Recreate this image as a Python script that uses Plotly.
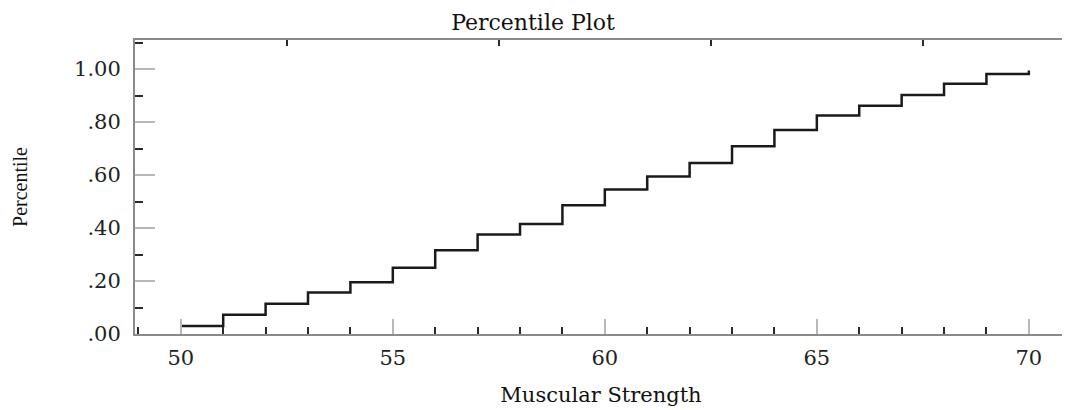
import plotly.graph_objects as go

strength = [50, 51, 52, 53, 54, 55, 56, 57, 58, 59, 60,
            61, 62, 63, 64, 65, 66, 67, 68, 69, 70]
percentile = [0.030, 0.073, 0.114, 0.157, 0.195, 0.250, 0.316, 0.376, 0.415, 0.486, 0.546,
              0.595, 0.646, 0.709, 0.770, 0.825, 0.862, 0.902, 0.945, 0.982, 0.995]

y_tickvals = [0.0, 0.2, 0.4, 0.6, 0.8, 1.0]
y_ticktext = [".00", ".20", ".40", ".60", ".80", "1.00"]
x_tickvals = [50, 55, 60, 65, 70]
top_tickvals = [52.5, 57.5, 62.5, 67.5]
right_tickvals = [0.1, 0.3, 0.5, 0.7, 0.9]

XR = [48.92, 70.9]
YR = [0, 1.11]
FONT = "DejaVu Serif"
AX = "#8a8a8a"
MAJ = "#b8b8b8"
MIN = "#2a2a2a"
W, H = 1062, 402

fig = go.Figure()
fig.add_trace(go.Scatter(x=strength, y=percentile, mode="lines", line_shape="hv",
                         line=dict(color="#1a1a1a", width=2.5), showlegend=False,
                         hoverinfo="skip"))
fig.add_trace(go.Scatter(x=strength, y=percentile, mode="lines", xaxis="x2", yaxis="y2",
                         opacity=0, showlegend=False, hoverinfo="skip"))

fig.update_layout(
    width=W, height=H,
    margin=dict(l=127, r=3, t=32, b=76),
    paper_bgcolor="white", plot_bgcolor="white",
    title=dict(text="Percentile Plot", x=(533 - 8) / W, xanchor="center", y=1 - 14 / H,
               yanchor="middle", font=dict(family=FONT, size=22, color="#111")),
    xaxis=dict(range=XR, showgrid=False, zeroline=False,
               showline=True, linecolor=AX, linewidth=2,
               tickmode="array", tickvals=x_tickvals, ticks="inside", ticklen=15,
               tickwidth=2, tickcolor=MAJ,
               minor=dict(tickmode="linear", tick0=49, dtick=1, ticks="inside",
                          ticklen=7, tickwidth=2, tickcolor=MIN, showgrid=False),
               tickfont=dict(family=FONT, size=21, color="#222"),
               ticklabelstandoff=4,
               title=dict(text="Muscular Strength", standoff=18,
                          font=dict(family=FONT, size=21, color="#111"))),
    yaxis=dict(range=YR, showgrid=False, zeroline=False,
               showline=True, linecolor=AX, linewidth=2,
               tickmode="array", tickvals=y_tickvals, ticktext=y_ticktext,
               ticks="inside", ticklen=20, tickwidth=2, tickcolor=MAJ,
               minor=dict(tickmode="linear", tick0=0.1, dtick=0.1, ticks="inside",
                          ticklen=8, tickwidth=2, tickcolor=MIN, showgrid=False),
               tickfont=dict(family=FONT, size=21, color="#222"),
               ticklabelstandoff=8,
               title=dict(text="Percentile", standoff=41,
                          font=dict(family="Liberation Serif", size=20, color="#111"))),
    xaxis2=dict(range=XR, overlaying="x", side="top", anchor="y2",
                showgrid=False, zeroline=False, showline=True, linecolor=AX, linewidth=2,
                tickmode="array", tickvals=top_tickvals, ticks="inside", ticklen=6,
                tickwidth=2, tickcolor=MIN, showticklabels=False),
    yaxis2=dict(range=YR, overlaying="y", side="right", anchor="x2",
                showgrid=False, zeroline=False, showline=True, linecolor=AX, linewidth=2,
                tickmode="array", tickvals=right_tickvals, ticks="inside", ticklen=5,
                tickwidth=2, tickcolor=MIN, showticklabels=False),
)

fig.write_html("out.html")
